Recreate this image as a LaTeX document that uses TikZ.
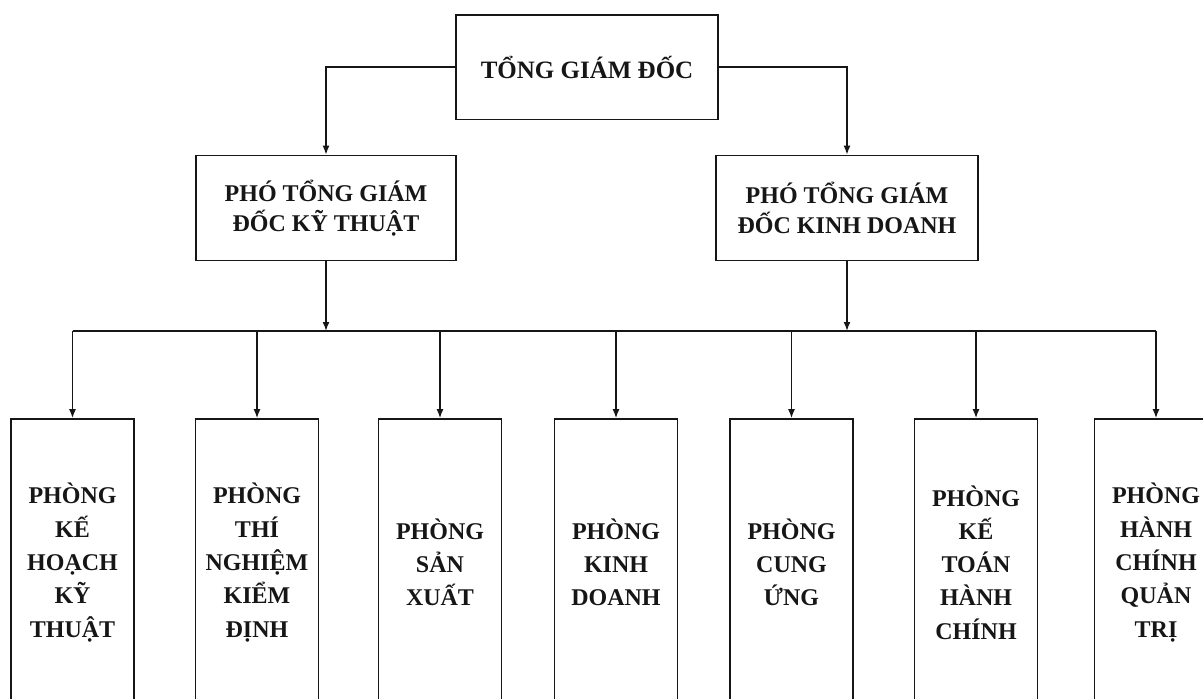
\documentclass[tikz,border=0pt]{standalone}
\usepackage{fontspec}
\setmainfont{Liberation Serif}
\usetikzlibrary{positioning,arrows.meta}
\definecolor{ink}{RGB}{22,22,22}
\def\deptwd{123pt}
\def\deptht{287pt}
\newcommand{\dept}[3]{\node[box,minimum width=\deptwd,minimum height=\deptht,
  font=\bfseries\fontsize{24}{33.3}\selectfont] (#1) at (#2,562.5) {#3};}

\begin{document}
\begin{tikzpicture}[x=1pt,y=-1pt,line width=1.6pt,
  box/.style={draw,rectangle,align=center,inner sep=0pt,color=ink},
  link/.style={-{Latex[length=9pt,width=7pt]},color=ink}]
\useasboundingbox (0,0) rectangle (1203,699);
\clip (0,0) rectangle (1203,699);

\node[box,minimum width=262pt,minimum height=104.6pt,font=\bfseries\fontsize{25}{30}\selectfont] (TGD) at (587,67) {TỔNG GIÁM ĐỐC};
\node[box,minimum width=260pt,minimum height=105pt,font=\bfseries\fontsize{24}{30.5}\selectfont] (PKT) at (326,208) {PHÓ TỔNG GIÁM\\ĐỐC KỸ THUẬT};
\node[box,minimum width=262pt,minimum height=105pt,font=\bfseries\fontsize{24}{30.5}\selectfont] (PKD) at (847,208) {PHÓ TỔNG GIÁM\\ĐỐC KINH DOANH};

\coordinate (bus) at (0,331);

\dept{KHKT}{72.5}{PHÒNG\\KẾ\\HOẠCH\\KỸ\\THUẬT}
\dept{TNKD}{257}{PHÒNG\\THÍ\\NGHIỆM\\KIỂM\\ĐỊNH}
\dept{SX}{440}{PHÒNG\\SẢN\\XUẤT}
\dept{KD}{616}{PHÒNG\\KINH\\DOANH}
\dept{CU}{791.5}{PHÒNG\\CUNG\\ỨNG}
\dept{KTHC}{976}{PHÒNG\\KẾ\\TOÁN\\HÀNH\\CHÍNH}
\dept{HCQT}{1156}{PHÒNG\\HÀNH\\CHÍNH\\QUẢN\\TRỊ}

\draw[link] (TGD.west) -| (PKT.north);
\draw[link] (TGD.east) -| (PKD.north);
\draw[link] (PKT.south) -- (PKT.south |- bus);
\draw[link] (PKD.south) -- (PKD.south |- bus);
\draw[color=ink] (KHKT.north |- bus) -- (HCQT.north |- bus);
\foreach \d in {KHKT,TNKD,SX,KD,CU,KTHC,HCQT}
  \draw[link] (\d.north |- bus) -- (\d.north);
\end{tikzpicture}
\end{document}
